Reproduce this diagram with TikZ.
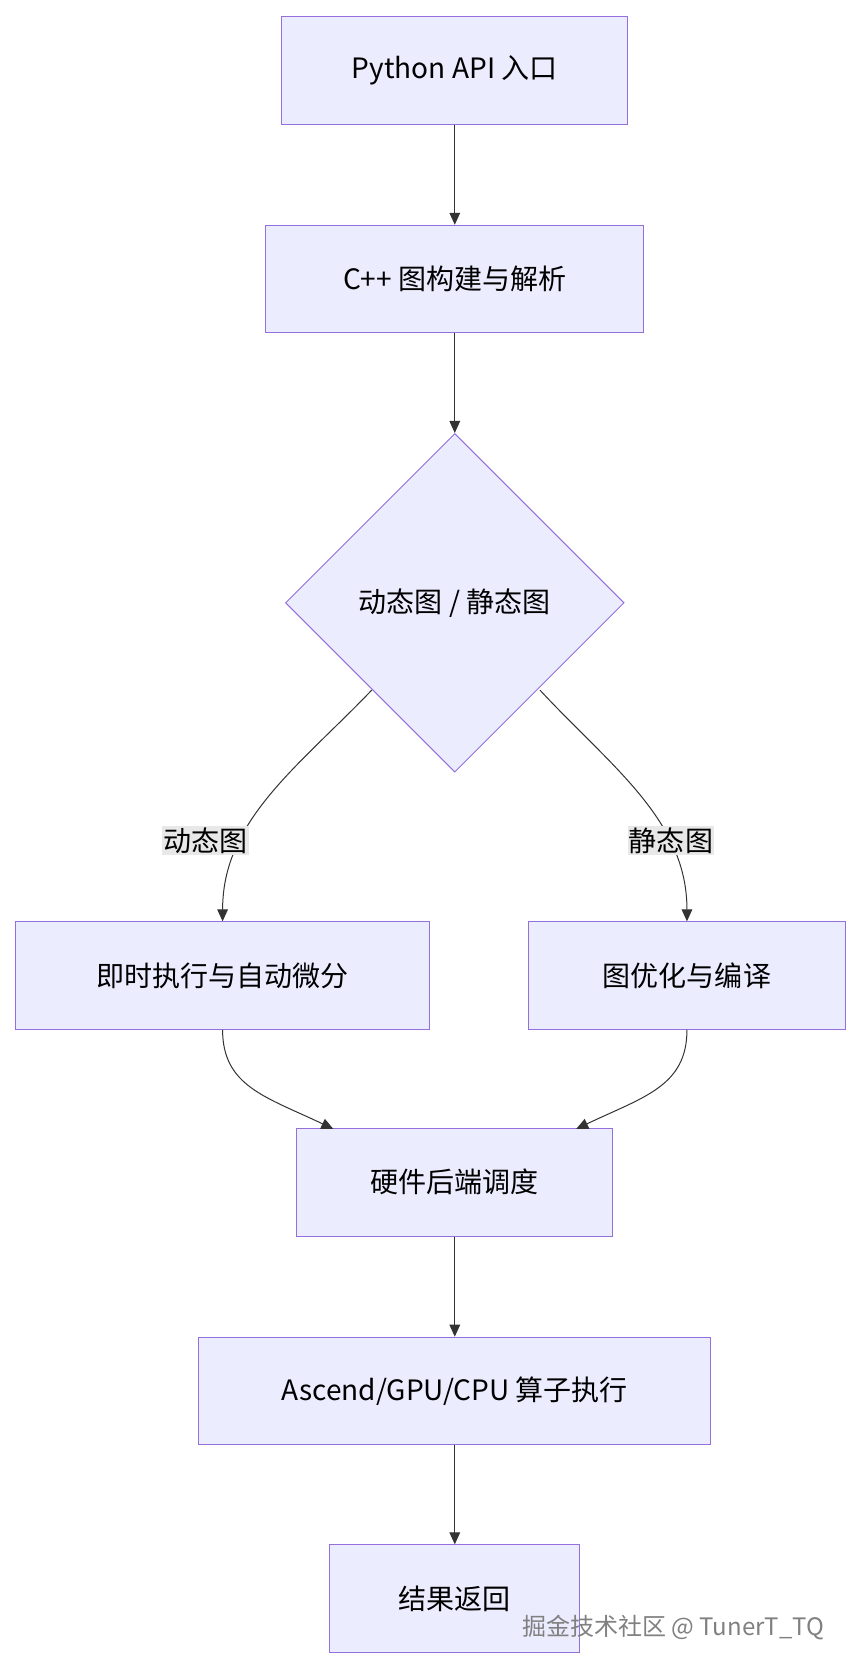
\documentclass[tikz,border=0pt]{standalone}
\usepackage{fontspec}
\setmainfont{Noto Sans CJK SC}
\usetikzlibrary{shapes.geometric,arrows.meta}
\definecolor{boxfill}{HTML}{ECECFF}
\definecolor{boxline}{HTML}{9370DB}
\definecolor{edgecol}{HTML}{333333}
\definecolor{lblbg}{HTML}{E8E8E8}
\tikzset{every picture/.style={line width=0.75pt}}
\tikzset{
  stage/.style={draw=boxline, fill=boxfill, inner sep=0pt, font=\fontsize{21}{25}\selectfont},
  flow/.style={draw=edgecol, -{Triangle[length=9pt,width=8pt]}},
  lbl/.style={fill=lblbg, inner sep=1pt, font=\fontsize{21}{25}\selectfont}
}
\begin{document}
\begin{tikzpicture}[x=0.798pt,y=0.798pt,yscale=-1,xscale=1]
\useasboundingbox (0,0) rectangle (810,1568);

% Boxes
\node (api) [stage, minimum width=325*0.798pt, minimum height=101*0.798pt] at (427,66) {Python API 入口};
\node (build) [stage, minimum width=355*0.798pt, minimum height=101*0.798pt] at (427,262) {C++ 图构建与解析};
\node (mode) [stage, diamond, aspect=1, minimum width=318*0.798pt, minimum height=318*0.798pt] at (427,566) {动态图 / 静态图};
\node (eager) [stage, minimum width=388*0.798pt, minimum height=101*0.798pt] at (209,916) {即时执行与自动微分};
\node (graph) [stage, minimum width=297*0.798pt, minimum height=101*0.798pt] at (645,916) {图优化与编译};
\node (sched) [stage, minimum width=297*0.798pt, minimum height=101*0.798pt] at (427,1110) {硬件后端调度};
\node (ops) [stage, minimum width=481*0.798pt, minimum height=101*0.798pt] at (427,1306) {Ascend/GPU/CPU 算子执行};
\node (ret) [stage, minimum width=235*0.798pt, minimum height=101*0.798pt] at (427,1501) {结果返回};

% Connectors
\draw [flow] (api) -- (build);
\draw [flow] (build) -- (mode);
\coordinate (mdl) at (349,648);
\coordinate (mdr) at (507,648);
\coordinate (scl) at (313,1060);
\coordinate (scr) at (541,1060);
\draw [flow] (mdl) .. controls (280,720) and (209,770) .. (eager.north);
\draw [flow] (mdr) .. controls (574,720) and (645,770) .. (graph.north);
\draw [flow] (eager.south) .. controls (209,1020) and (250,1030) .. (scl);
\draw [flow] (graph.south) .. controls (645,1020) and (604,1030) .. (scr);
\draw [flow] (sched) -- (ops);
\draw [flow] (ops) -- (ret);

% Edge labels
\node (ldyn) [lbl] at (193,789) {动态图};
\node (lsta) [lbl] at (630,789) {静态图};

% Watermark
\node (mark) [text=gray, font=\fontsize{18}{22}\selectfont] at (632,1528) {掘金技术社区 @ TunerT\_TQ};

\end{tikzpicture}
\end{document}
